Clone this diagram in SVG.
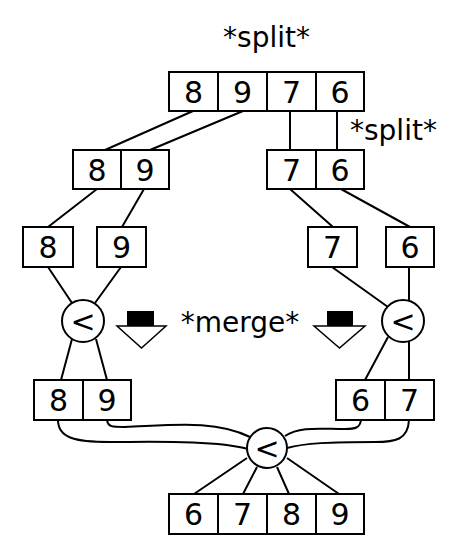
<svg xmlns="http://www.w3.org/2000/svg" width="458" height="558" viewBox="0 0 458 558">
<style>
.box{fill:#fff;stroke:#000;stroke-width:2}
.ln{fill:none;stroke:#000;stroke-width:2}
.d{font-family:"DejaVu Sans",sans-serif;font-size:30px;text-anchor:middle;fill:#000}
.lbl{font-family:"DejaVu Sans",sans-serif;font-size:28px;fill:#000}
.op{fill:#fff;stroke:#000;stroke-width:2}
.arr{fill:#fff;stroke:#000;stroke-width:1.5}
</style>
<rect width="458" height="558" fill="#fff"/>
<g id="connectors">
<path class="ln" d="M193,111 L105,150 M243,111 L150,150 M290,111 L290,150 M337,111 L337,150"/>
<path class="ln" d="M97,189 L48,227 M144,189 L122,227 M290,189 L333,227 M341,189 L410,227"/>
<path class="ln" d="M48,267 L72,303 M121,267 L95,303 M332,267 L388,307 M409,267 L409,301"/>
<path class="ln" d="M72,339 L61,380 M96,339 L107,380 M388,337 L365,380 M409,341 L409,380"/>
<path class="ln" d="M247,458 L194,494 M257,467 L243,494 M277,467 L289,494 M287,458 L339,494"/>
<path class="ln" d="M58,420 C58,438 75,442 110,442 C150,442 215,440 248,449"/>
<path class="ln" d="M107,420 C108,427 112,427 125,427 C175,425 215,420 250,437"/>
<path class="ln" d="M361,420 C360,428 355,429 345,429 C320,429 300,426 285,436"/>
<path class="ln" d="M409,420 C408,440 395,442 375,442 C330,442 305,443 287,448"/>
</g>
<g id="top">
<rect class="box" x="169" y="72" width="49" height="39"/><rect class="box" x="218" y="72" width="49" height="39"/><rect class="box" x="267" y="72" width="49" height="39"/><rect class="box" x="316" y="72" width="48" height="39"/>
<text class="d" x="193.5" y="103">8</text><text class="d" x="242.5" y="103">9</text><text class="d" x="291.5" y="103">7</text><text class="d" x="340" y="103">6</text>
</g>
<g id="split-left">
<rect class="box" x="73" y="150" width="48" height="39"/><rect class="box" x="121" y="150" width="48" height="39"/>
<text class="d" x="97" y="181">8</text><text class="d" x="145" y="181">9</text>
</g>
<g id="split-right">
<rect class="box" x="267" y="150" width="49" height="39"/><rect class="box" x="316" y="150" width="48" height="39"/>
<text class="d" x="291.5" y="181">7</text><text class="d" x="340" y="181">6</text>
</g>
<g id="leaf8"><rect class="box" x="23" y="227" width="50" height="40"/><text class="d" x="48" y="258">8</text></g>
<g id="leaf9"><rect class="box" x="97" y="227" width="49" height="40"/><text class="d" x="121.5" y="258">9</text></g>
<g id="leaf7"><rect class="box" x="308" y="227" width="49" height="40"/><text class="d" x="332.5" y="258">7</text></g>
<g id="leaf6"><rect class="box" x="386" y="227" width="48" height="40"/><text class="d" x="410" y="258">6</text></g>
<g id="cmp-left"><circle class="op" cx="83" cy="321" r="21"/><text class="d" x="83" y="332">&lt;</text></g>
<g id="cmp-right"><circle class="op" cx="403" cy="321" r="21"/><text class="d" x="403" y="332">&lt;</text></g>
<g id="merged-left">
<rect class="box" x="34" y="380" width="49" height="40"/><rect class="box" x="83" y="380" width="48" height="40"/>
<text class="d" x="58.5" y="411">8</text><text class="d" x="107" y="411">9</text>
</g>
<g id="merged-right">
<rect class="box" x="336" y="380" width="49" height="40"/><rect class="box" x="385" y="380" width="49" height="40"/>
<text class="d" x="360.5" y="411">6</text><text class="d" x="409.5" y="411">7</text>
</g>
<g id="cmp-bottom"><circle class="op" cx="267" cy="448" r="20"/><text class="d" x="267" y="459">&lt;</text></g>
<g id="result">
<rect class="box" x="169" y="494" width="49" height="40"/><rect class="box" x="218" y="494" width="49" height="40"/><rect class="box" x="267" y="494" width="49" height="40"/><rect class="box" x="316" y="494" width="48" height="40"/>
<text class="d" x="193.5" y="525">6</text><text class="d" x="242.5" y="525">7</text><text class="d" x="291.5" y="525">8</text><text class="d" x="340" y="525">9</text>
</g>
<g id="arrow-left"><rect x="127" y="311" width="27" height="15" fill="#000"/><polygon class="arr" points="117,326 166,326 141.5,348"/></g>
<g id="arrow-right"><rect x="327" y="311" width="26" height="15" fill="#000"/><polygon class="arr" points="314,326 365,326 339.5,348"/></g>
<g id="labels">
<text class="lbl" x="266.5" y="47" text-anchor="middle">*split*</text>
<text class="lbl" x="350" y="140">*split*</text>
<text class="lbl" x="240" y="332" text-anchor="middle">*merge*</text>
</g>
</svg>
